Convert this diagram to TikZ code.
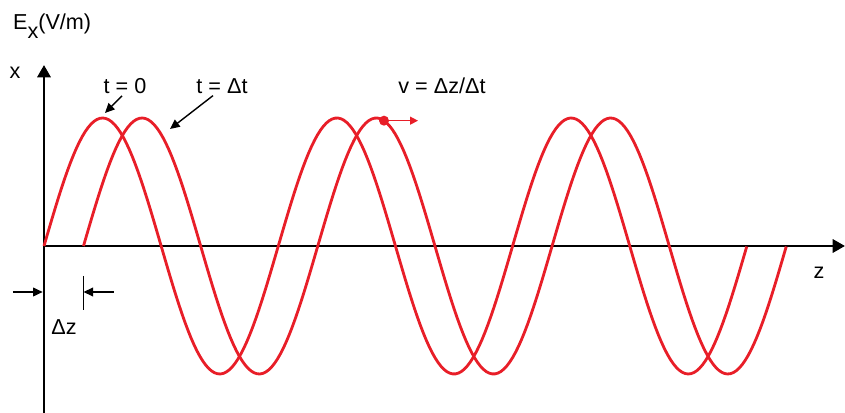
\documentclass[tikz,border=0pt]{standalone}
\usepackage{fontspec}
\setmainfont{Liberation Sans}
\usetikzlibrary{arrows.meta, positioning, calc}
\definecolor{wavered}{RGB}{232, 30, 40}

\begin{document}
\begin{tikzpicture}[font=\fontsize{12.3}{14}\selectfont,
  axis/.style={line width=1.5pt, -{Triangle[length=7pt, width=7.5pt]}},
  wave/.style={wavered, line width=1.6pt},
  ptr/.style={line width=0.8pt, -{Triangle[length=5.5pt, width=5pt]}},
  lbl/.style={inner sep=1pt}]

  \useasboundingbox (-0.88,-3.34) rectangle (16.02,4.92);

  % Welle: Amplitude, Wellenlaenge, Verschiebung
  \pgfmathsetmacro{\amp}{2.56}
  \pgfmathsetmacro{\lam}{4.686}
  \pgfmathsetmacro{\dz}{0.79}

  % Achsen
  \coordinate (o) at (0,0);
  \coordinate (ybot) at (0,-3.34);
  \coordinate (ytop) at (0,3.62);
  \coordinate (zend) at (16.02,0);
  \draw[axis] (ybot) -- (ytop);
  \draw[axis] (o) -- (zend);

  % Welle bei t = 0
  \draw[wave] plot[domain=0:{3*\lam}, samples=240] (\x, {\amp*sin(360*\x/\lam)});

  % Welle bei t = Delta t
  \draw[wave] plot[domain=\dz:{\dz+3*\lam}, samples=240] (\x, {\amp*sin(360*(\x-\dz)/\lam)});

  % Punkt mit Geschwindigkeit
  \pgfmathsetmacro{\vx}{6.8}
  \pgfmathsetmacro{\vy}{\amp*sin(360*(\vx-\dz)/\lam)}
  \node[circle, fill=wavered, inner sep=0pt, minimum size=0.2cm] (dot) at (\vx,\vy) {};
  \coordinate (vtip) at (7.48,\vy);
  \draw[wavered, line width=0.8pt, -{Triangle[length=4.5pt, width=4.5pt]}] (dot.center) -- (vtip);

  % Beschriftungen
  \node[lbl, anchor=west] (ex) at (-0.66,4.4) {E\raisebox{-0.8ex}{x}(V/m)};
  \node[lbl] (xlab) at (-0.58,3.46) {x};
  \node[lbl] (t0) at (1.62,3.2) {t = 0};
  \node[lbl] (tdt) at (3.56,3.2) {t = Δt};
  \node[lbl] (vlab) at (7.96,3.2) {v = Δz/Δt};
  \node[lbl] (zlab) at (15.5,-0.54) {z};
  \node[lbl] (dzlab) at (0.4,-1.62) {Δz};

  % Zeiger
  \coordinate (p0) at (1.22,2.66);
  \coordinate (p1) at (2.52,2.34);
  \draw[ptr] ($(t0.south)+(-0.06,0)$) -- (p0);
  \draw[ptr] ($(tdt.south)+(-0.18,0)$) -- (p1);

  % Delta z
  \coordinate (dzl) at (-0.62,-0.92);
  \coordinate (dzr) at (1.4,-0.92);
  \coordinate (dzm) at (\dz,-0.92);
  \draw[ptr, shorten >=0.75pt] (dzl) -- (ybot |- dzl);
  \draw[line width=0.8pt] (\dz,-0.6) -- (\dz,-1.28);
  \draw[ptr] (dzr) -- (dzm);

\end{tikzpicture}
\end{document}
